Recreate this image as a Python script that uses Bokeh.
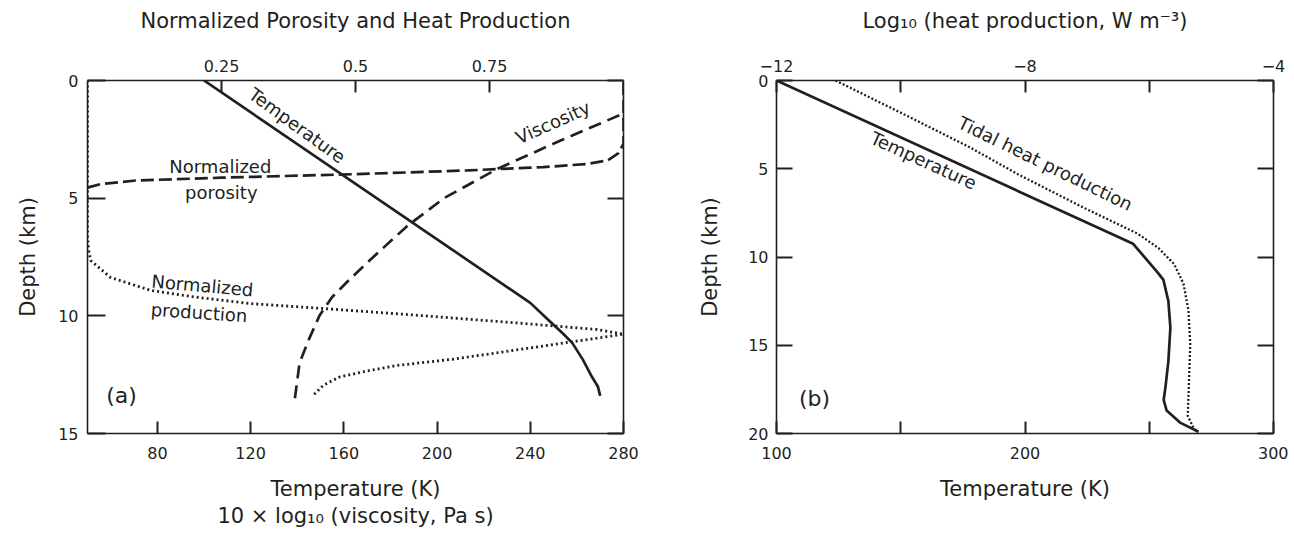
import math
from bokeh.plotting import figure
from bokeh.models import Range1d, LinearAxis, FixedTicker, ColumnDataSource
from bokeh.layouts import row
from bokeh.embed import file_html
from bokeh.resources import INLINE
from bokeh.core.properties import value

FONT = "DejaVu Sans"
INK = "#231f20"

# ---------------- Panel (a) data ----------------
a_temp_K = [100, 240, 248, 254, 258, 262.5, 266.5, 269, 270]
a_temp_depth = [0, 9.45, 10.2, 10.75, 11.15, 11.85, 12.6, 13.0, 13.4]

a_visc_10log = [139, 141, 145, 149.5, 155, 162, 171, 187, 203, 226, 253, 280]
a_visc_depth = [13.5, 12.0, 11.0, 10.0, 9.2, 8.5, 7.65, 6.2, 5.0, 3.75, 2.55, 1.4]

a_poro_norm = [0, 0.025, 0.09, 0.25, 0.4, 0.5, 0.71, 0.85, 0.93, 0.97, 0.99, 1.0, 1.0]
a_poro_depth = [4.55, 4.4, 4.25, 4.13, 4.04, 3.98, 3.82, 3.68, 3.55, 3.4, 3.1, 2.7, 0]

a_prod_norm = [0, 0, 0.002, 0.006, 0.043, 0.118, 0.2, 0.304, 0.44, 0.6, 0.8, 0.95, 1.0,
               0.95, 0.86, 0.77, 0.68, 0.58, 0.52, 0.47, 0.44, 0.42]
a_prod_depth = [0, 6.6, 7.2, 7.65, 8.37, 8.92, 9.2, 9.48, 9.69, 9.95, 10.3, 10.58, 10.78,
                10.95, 11.25, 11.55, 11.85, 12.1, 12.35, 12.6, 12.95, 13.4]

a_bottom_ticks = [80, 120, 160, 200, 240, 280]
a_top_ticks = [0.25, 0.5, 0.75]
a_depth_ticks = [0, 5, 10, 15]

# ---------------- Panel (b) data ----------------
b_temp_K = [100, 243.5, 249.3, 253.5, 255.7, 257.7, 258.5, 257.7, 256.5, 255.8, 257, 262.6, 269.8]
b_temp_depth = [0, 9.25, 10.2, 10.9, 11.3, 12.5, 14.0, 15.9, 17.4, 18.1, 18.7, 19.4, 19.9]

b_tidal_log = [-11.05, -9.9, -8.88, -8.12, -7.06, -6.19, -5.85, -5.6, -5.45, -5.37, -5.34,
               -5.36, -5.38, -5.3, -5.22]
b_tidal_depth = [0, 2.0, 3.8, 5.3, 7.2, 8.67, 9.5, 10.4, 11.5, 13.0, 14.9, 17.0, 19.0, 19.6, 19.95]

b_bottom_ticks = [100, 200, 300]
b_bottom_minor = [150, 250]
b_top_ticks = [-12, -8, -4]
b_top_minor = [-10, -6]
b_depth_ticks = [0, 5, 10, 15, 20]


def style_axis(ax, tick_in, font_size="16px"):
    ax.axis_line_color = INK
    ax.axis_line_width = 1.6
    ax.major_tick_line_color = INK
    ax.major_tick_line_width = 2
    ax.major_tick_in = tick_in
    ax.major_tick_out = 0
    ax.minor_tick_line_color = INK
    ax.minor_tick_line_width = 2
    ax.minor_tick_in = tick_in
    ax.minor_tick_out = 0
    ax.major_label_text_font = FONT
    ax.major_label_text_color = INK
    ax.major_label_text_font_size = font_size
    ax.axis_label_text_font = FONT
    ax.axis_label_text_font_style = "normal"
    ax.axis_label_text_font_size = "21px"
    ax.axis_label_text_color = INK


def add_text(p, xs, ys, texts, angles_deg, size, x_range_name="default"):
    src = ColumnDataSource(dict(x=xs, y=ys, text=texts,
                                angle=[math.radians(a) for a in angles_deg]))
    p.text(x="x", y="y", text="text", angle="angle", source=src,
           text_font=value(FONT), text_font_size=size, text_color=INK,
           text_align="center", text_baseline="middle", x_range_name=x_range_name)


H = 532

# ---------------- Figure (a) ----------------
pa = figure(width=648, height=H, x_range=Range1d(50, 280), y_range=Range1d(15, 0),
            output_backend="svg", toolbar_location=None,
            min_border_left=87, min_border_right=25, min_border_top=80,
            min_border_bottom=H - 433)
pa.extra_x_ranges = {"norm": Range1d(0, 1)}
pa.outline_line_color = None
pa.xgrid.visible = False
pa.ygrid.visible = False

xb = pa.xaxis[0]
xb.ticker = FixedTicker(ticks=a_bottom_ticks)
xb.axis_label = "Temperature (K)"
style_axis(xb, 12)
xb.major_label_standoff = 13
xb.axis_label_standoff = 15

yl = pa.yaxis[0]
yl.ticker = FixedTicker(ticks=a_depth_ticks)
yl.axis_label = "Depth (km)"
style_axis(yl, 18)
yl.major_label_standoff = 9
yl.axis_label_standoff = 15

xt = LinearAxis(x_range_name="norm", ticker=FixedTicker(ticks=a_top_ticks),
                axis_label="Normalized Porosity and Heat Production",
                major_label_overrides={0.25: "0.25", 0.5: "0.5", 0.75: "0.75"})
style_axis(xt, 12)
xt.major_label_standoff = 9
xt.axis_label_standoff = 24
pa.add_layout(xt, "above")

yr = LinearAxis(ticker=FixedTicker(ticks=[], minor_ticks=a_depth_ticks))
style_axis(yr, 16)
yr.major_label_standoff = 0
pa.add_layout(yr, "right")

xb2 = LinearAxis(ticker=FixedTicker(ticks=[]), axis_label="10 × log₁₀ (viscosity, Pa s)")
style_axis(xb2, 0)
xb2.axis_line_color = None
xb2.major_label_standoff = 0
xb2.axis_label_standoff = 0
pa.add_layout(xb2, "below")

pa.line(a_temp_K, a_temp_depth, line_color=INK, line_width=2.7, line_join="round")
pa.line(a_visc_10log, a_visc_depth, line_color=INK, line_width=2.7, line_dash="13 7")
pa.line(a_poro_norm, a_poro_depth, line_color=INK, line_width=2.7, line_dash="13 5",
        x_range_name="norm")
pa.line(a_prod_norm, a_prod_depth, line_color=INK, line_width=2.8, line_dash="2 3",
        x_range_name="norm")

add_text(pa, [140, 249.7, 107, 107.4, 99.3, 97.9],
         [1.91, 1.78, 3.65, 4.76, 8.71, 9.86],
         ["Temperature", "Viscosity", "Normalized", "porosity", "Normalized", "production"],
         [-36, 24, 0, 0, -5, -4], "18px")
add_text(pa, [64.6], [13.39], ["(a)"], [0], "22px")

# ---------------- Figure (b) ----------------
pb = figure(width=640, height=H, x_range=Range1d(100, 300), y_range=Range1d(20, 0),
            output_backend="svg", toolbar_location=None,
            min_border_left=128, min_border_right=15, min_border_top=80,
            min_border_bottom=H - 433)
pb.extra_x_ranges = {"logq": Range1d(-12, -4)}
pb.outline_line_color = None
pb.xgrid.visible = False
pb.ygrid.visible = False

xbb = pb.xaxis[0]
xbb.ticker = FixedTicker(ticks=b_bottom_ticks, minor_ticks=b_bottom_minor)
xbb.axis_label = "Temperature (K)"
style_axis(xbb, 12)
xbb.major_label_standoff = 13
xbb.axis_label_standoff = 15

ybl = pb.yaxis[0]
ybl.ticker = FixedTicker(ticks=b_depth_ticks)
ybl.axis_label = "Depth (km)"
style_axis(ybl, 16)
ybl.major_label_standoff = 8
ybl.axis_label_standoff = 23

xbt = LinearAxis(x_range_name="logq",
                 ticker=FixedTicker(ticks=b_top_ticks, minor_ticks=b_top_minor),
                 axis_label="Log₁₀ (heat production, W m⁻³)",
                 major_label_overrides={-12: "−12", -8: "−8", -4: "−4"})
style_axis(xbt, 12)
xbt.major_label_standoff = 9
xbt.axis_label_standoff = 24
pb.add_layout(xbt, "above")

ybr = LinearAxis(ticker=FixedTicker(ticks=[], minor_ticks=b_depth_ticks))
style_axis(ybr, 16)
ybr.major_label_standoff = 0
pb.add_layout(ybr, "right")

pb.line(b_temp_K, b_temp_depth, line_color=INK, line_width=2.7, line_join="round")
pb.line(b_tidal_log, b_tidal_depth, line_color=INK, line_width=2.3, line_dash="2 2",
        x_range_name="logq")

add_text(pb, [159.2, 208.2], [4.53, 4.7], ["Temperature", "Tidal heat production"],
         [-24.6, -26], "18px")
add_text(pb, [115.3], [18.0], ["(b)"], [0], "22px")

layout = row(pa, pb)
open("out.html", "w").write(file_html(layout, INLINE))
